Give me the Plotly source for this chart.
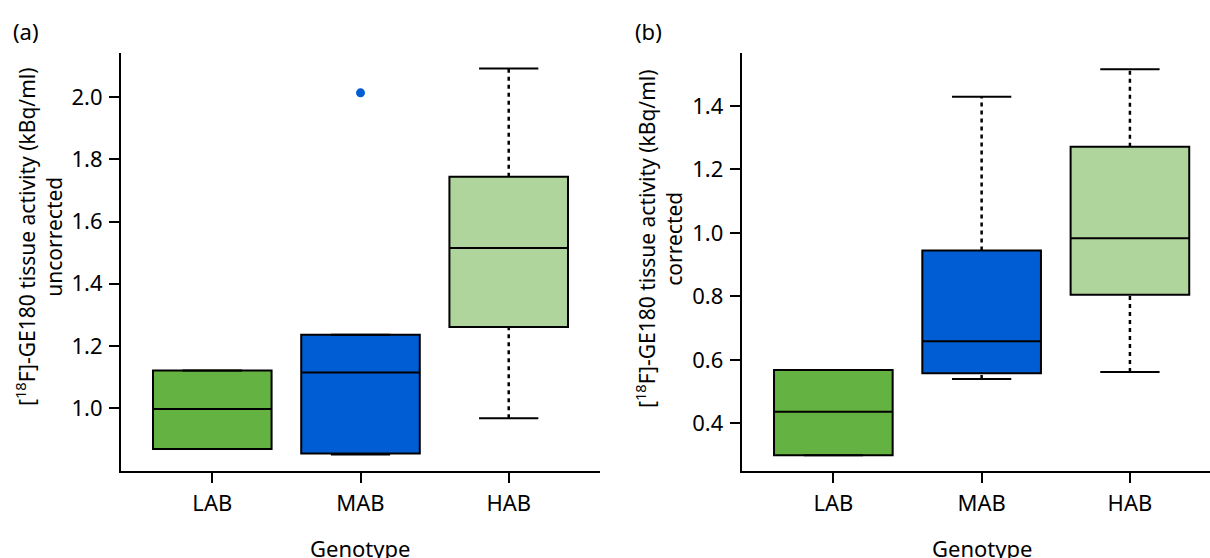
import plotly.graph_objects as go

# ---- data ----
categories = ["LAB", "MAB", "HAB"]

# (a) uncorrected
a_min = [0.869, 0.851, 0.968]
a_q1 = [0.869, 0.854, 1.261]
a_med = [0.997, 1.115, 1.515]
a_q3 = [1.121, 1.236, 1.744]
a_max = [1.121, 1.236, 2.092]
a_outlier_cat = [1]
a_outlier_val = [2.014]

# (b) corrected
b_min = [0.300, 0.540, 0.562]
b_q1 = [0.300, 0.558, 0.805]
b_med = [0.437, 0.659, 0.983]
b_q3 = [0.568, 0.945, 1.272]
b_max = [0.568, 1.429, 1.516]

a_yticks = [1.0, 1.2, 1.4, 1.6, 1.8, 2.0]
b_yticks = [0.4, 0.6, 0.8, 1.0, 1.2, 1.4]

colors = ["#64b342", "#005dd4", "#afd49c"]
FONT = "Noto Sans"
FS = 22

fig = go.Figure()

def add_panel(xa, ya, mins, q1s, meds, q3s, maxs):
    for i, cat in enumerate(categories):
        fig.add_trace(go.Box(
            x=[i], q1=[q1s[i]], median=[meds[i]], q3=[q3s[i]],
            lowerfence=[q1s[i]], upperfence=[q3s[i]],
            width=0.8, whiskerwidth=0,
            fillcolor=colors[i], line=dict(color="black", width=2),
            boxpoints=False, xaxis=xa, yaxis=ya, showlegend=False,
            hoverinfo="skip",
        ))
    for i in range(len(categories)):
        # dashed whiskers
        for lo, hi in ((q3s[i], maxs[i]), (mins[i], q1s[i])):
            if hi - lo > 1e-6:
                fig.add_trace(go.Scatter(
                    x=[i, i], y=[lo, hi], mode="lines",
                    line=dict(color="black", width=2.5, dash="4px,4px"),
                    xaxis=xa, yaxis=ya, showlegend=False, hoverinfo="skip"))
        # caps
        for v in (mins[i], maxs[i]):
            fig.add_trace(go.Scatter(
                x=[i - 0.2, i + 0.2], y=[v, v], mode="lines",
                line=dict(color="black", width=2),
                xaxis=xa, yaxis=ya, showlegend=False, hoverinfo="skip"))

add_panel("x", "y", a_min, a_q1, a_med, a_q3, a_max)
add_panel("x2", "y2", b_min, b_q1, b_med, b_q3, b_max)

fig.add_trace(go.Scatter(
    x=a_outlier_cat, y=a_outlier_val, mode="markers",
    marker=dict(color="#005dd4", size=9),
    xaxis="x", yaxis="y", showlegend=False, hoverinfo="skip"))

tickfont = dict(family=FONT, size=FS, color="black")
xcommon = dict(
    tickvals=[0, 1, 2], ticktext=categories, ticks="outside", ticklen=10,
    tickwidth=2, tickcolor="black", showline=True, linecolor="black",
    linewidth=2, showgrid=False, zeroline=False, tickfont=tickfont,
    ticklabelstandoff=2,
)
ycommon = dict(
    ticks="outside", ticklen=10, tickwidth=2, tickcolor="black",
    showline=True, linecolor="black", linewidth=2, showgrid=False,
    zeroline=False, tickfont=tickfont, tickformat=".1f",
    ticklabelstandoff=2,
)

fig.update_layout(
    width=1210, height=558,
    margin=dict(l=0, r=0, t=0, b=0),
    paper_bgcolor="white", plot_bgcolor="white",
    font=dict(family=FONT, size=FS, color="black"),
    xaxis=dict(domain=[121 / 1210, 600 / 1210], range=[-0.616, 2.616],
               anchor="y", **xcommon),
    yaxis=dict(domain=[1 - 471 / 558, 1 - 53 / 558], range=[0.798, 2.142],
               tickvals=a_yticks, anchor="x", **ycommon),
    xaxis2=dict(domain=[741.7 / 1210, 1.0], range=[-0.618, 2.54],
                anchor="y2", **xcommon),
    yaxis2=dict(domain=[1 - 471 / 558, 1 - 53 / 558], range=[0.25, 1.567],
                tickvals=b_yticks, anchor="x2", **ycommon),
)

ann_font = dict(family=FONT, size=FS, color="black")
title_font = dict(family=FONT, size=21, color="black")
anns = [
    dict(text="(a)", x=11 / 1210, y=1 - 31 / 558, xanchor="left", yanchor="middle", font=ann_font),
    dict(text="(b)", x=633 / 1210, y=1 - 31 / 558, xanchor="left", yanchor="middle", font=ann_font),
    dict(text="[<sup>18</sup>F]-GE180 tissue activity (kBq/ml)<br>uncorrected",
         x=39 / 1210, y=1 - 237 / 558, textangle=-90, xanchor="center", yanchor="middle",
         font=title_font),
    dict(text="[<sup>18</sup>F]-GE180 tissue activity (kBq/ml)<br>corrected",
         x=659 / 1210, y=1 - 239 / 558, textangle=-90, xanchor="center", yanchor="middle",
         font=title_font),
    dict(text="Genotype", x=360 / 1210, y=1 - 548 / 558, xanchor="center", yanchor="middle", font=ann_font),
    dict(text="Genotype", x=982 / 1210, y=1 - 548 / 558, xanchor="center", yanchor="middle", font=ann_font),
]
for a in anns:
    fig.add_annotation(xref="paper", yref="paper", showarrow=False, **a)

fig.write_html("out.html", config={"displayModeBar": False},
               post_script="document.body.style.margin='0';")
